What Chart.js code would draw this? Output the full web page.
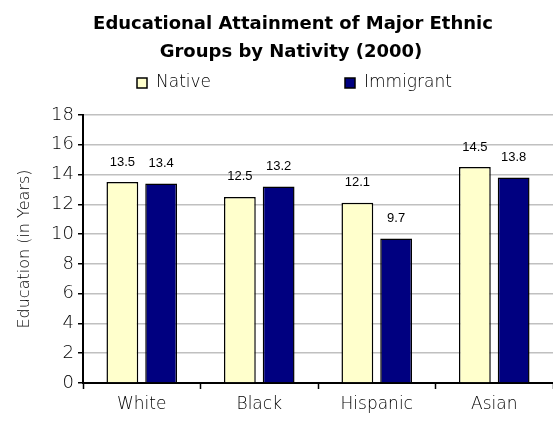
<!DOCTYPE html>
<html>
<head>
<meta charset="utf-8">
<script src="https://cdn.jsdelivr.net/npm/chart.js@4"></script>
<style>
html,body{margin:0;padding:0;background:#fff;}
#wrap{width:553px;height:426px;}
</style>
</head>
<body>
<div id="wrap"><canvas id="eduChart" width="553" height="426"></canvas></div>
<script>
const categories = ["White","Black","Hispanic","Asian"];
const nativeYears = [13.5,12.5,12.1,14.5];
const immigrantYears = [13.4,13.2,9.7,13.8];
const titleLines = ["Educational Attainment of Major Ethnic","Groups by Nativity (2000)"];
const seriesNames = ["Native","Immigrant"];

const bodyFont = "'DejaVu Sans'";

// title + custom spaced legend
const headerPlugin = {
id:"header",
afterDraw(chart){
const ctx = chart.ctx;
ctx.save();
ctx.fillStyle = "#000";
ctx.textAlign = "center";
ctx.textBaseline = "middle";
ctx.font = "bold 18px 'DejaVu Sans'";
ctx.fillText(titleLines[0], 293, 24);
ctx.fillText(titleLines[1], 291, 52);

ctx.font = "200 17px " + bodyFont;
ctx.textAlign = "left";
const items = [
{x:137, fill:"#ffffcc"},
{x:345, fill:"#000080"}
];
items.forEach((it,i) => {
ctx.fillStyle = it.fill;
ctx.fillRect(it.x, 78, 10, 10);
ctx.strokeStyle = "#000";
ctx.lineWidth = 1.5;
ctx.strokeRect(it.x, 78, 10, 10);
ctx.fillStyle = "#000";
ctx.fillText(seriesNames[i], it.x + 19, 83);
});
ctx.restore();
}
};

// value labels above bars
const valueLabels = {
id:"valueLabels",
afterDatasetsDraw(chart){
const ctx = chart.ctx;
ctx.save();
ctx.font = "13px 'Liberation Sans'";
ctx.fillStyle = "#000";
ctx.textAlign = "center";
ctx.textBaseline = "middle";
chart.data.datasets.forEach((ds,di) => {
chart.getDatasetMeta(di).data.forEach((bar,i) => {
ctx.fillText(ds.data[i].toFixed(1), bar.x, bar.y - 20);
});
});
ctx.restore();
}
};

new Chart(document.getElementById("eduChart"),{
type:"bar",
data:{
labels:categories,
datasets:[
{
label:seriesNames[0],
data:nativeYears,
backgroundColor:"#ffffcc",
borderColor:"#000",
borderWidth:1.5,
categoryPercentage:0.66,
barPercentage:0.82
},
{
label:seriesNames[1],
data:immigrantYears,
backgroundColor:"#000080",
borderColor:"#000",
borderWidth:1.5,
categoryPercentage:0.66,
barPercentage:0.82
}
]
},
options:{
responsive:false,
animation:false,
layout:{padding:{top:115,right:0,left:0,bottom:0}},
plugins:{
legend:{display:false},
title:{display:false},
tooltip:{enabled:false}
},
scales:{
x:{
afterFit(s){ s.height = 43; },
grid:{
offset:true,
drawOnChartArea:false,
color:"#000",
tickLength:6,
tickWidth:1.5
},
border:{color:"#000",width:2},
ticks:{
color:"#000",
font:{family:bodyFont,size:17,weight:200},
padding:5
}
},
y:{
min:0,
max:18,
afterFit(s){ s.width = 83; },
ticks:{
stepSize:2,
color:"#000",
font:{family:bodyFont,size:18,weight:200},
padding:4
},
grid:{
color:"#c0c0c0",
lineWidth:1.5,
tickColor:"#000",
tickLength:5
},
border:{color:"#000",width:2},
title:{
display:true,
text:"Education (in Years)",
color:"#000",
font:{family:bodyFont,size:16,weight:200},
padding:{top:15,bottom:0}
}
}
}
},
plugins:[headerPlugin,valueLabels]
});
</script>
</body>
</html>
